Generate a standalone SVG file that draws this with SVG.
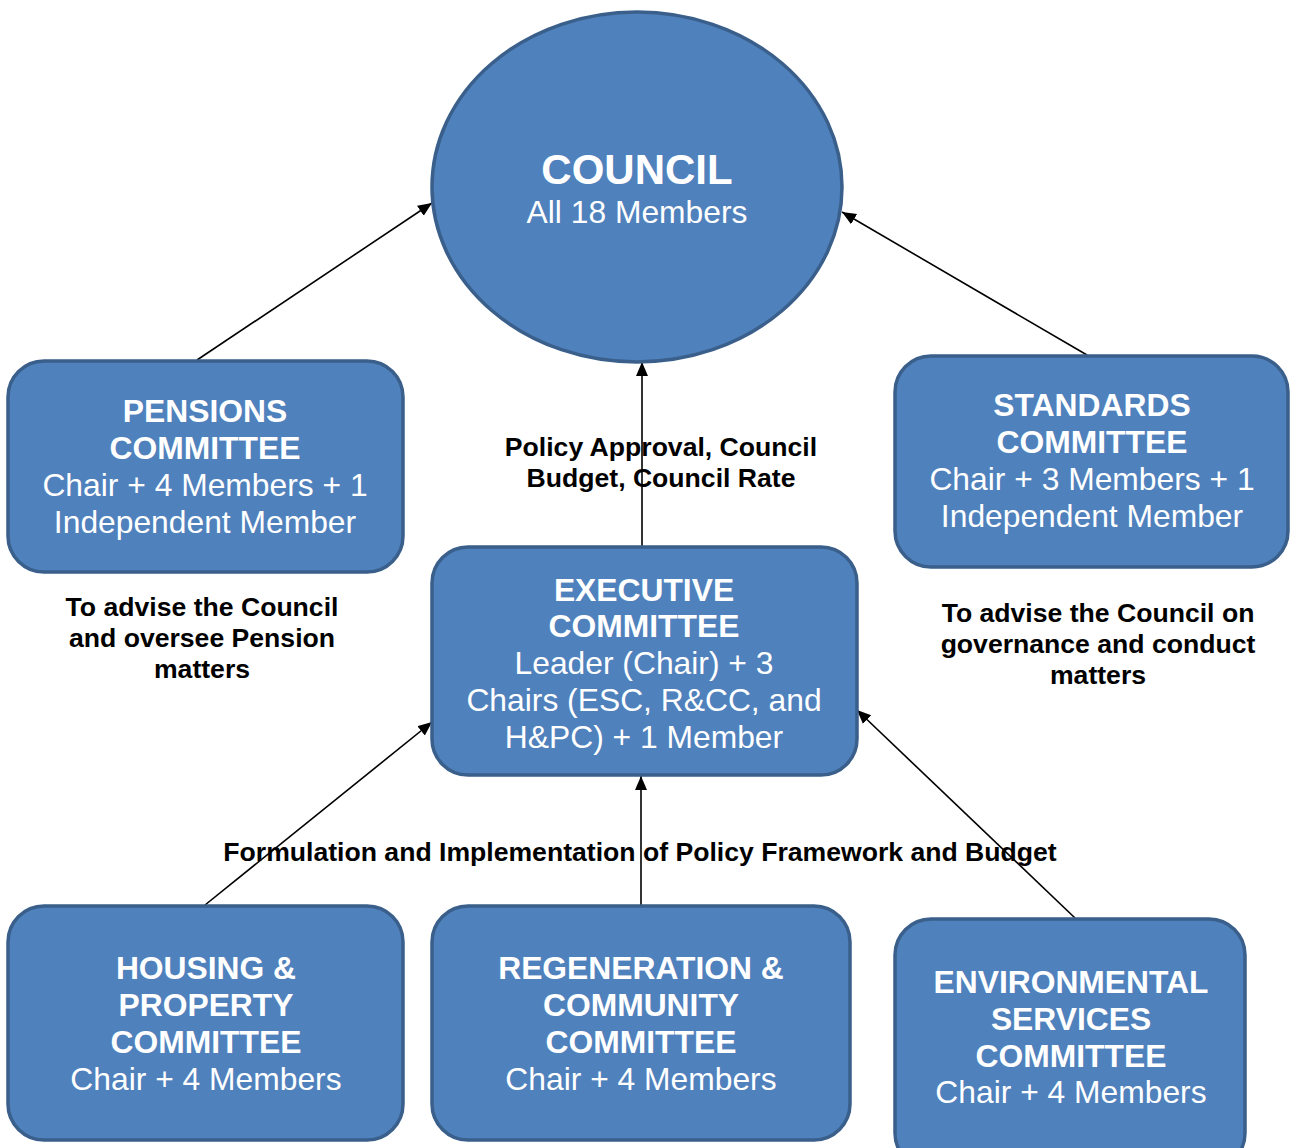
<svg xmlns="http://www.w3.org/2000/svg" width="1290" height="1148" viewBox="0 0 1290 1148">
  <style>
    .shape { fill: #4F81BD; stroke: #3A5F8B; stroke-width: 3.5; }
    .t { font-family: "Liberation Sans", Arial, sans-serif; fill: #FFFFFF; text-anchor: middle; font-size: 31.8px; }
    .b { font-weight: bold; }
    .note { font-family: "Liberation Sans", Arial, sans-serif; fill: #000000; font-weight: bold; text-anchor: middle; font-size: 26.6px; }
    .conn { stroke: #000000; stroke-width: 1.6; fill: none; marker-end: url(#arrow); }
  </style>
  <defs>
    <marker id="arrow" markerUnits="userSpaceOnUse" markerWidth="16" markerHeight="14" refX="14" refY="6" orient="auto">
      <path d="M0,0 L14,6 L0,12 Z" fill="#000000"/>
    </marker>
  </defs>
  <rect x="0" y="0" width="1290" height="1148" fill="#FFFFFF"/>

  <g id="labels">
    <text class="note" x="661" y="456">Policy Approval, Council</text>
    <text class="note" x="661" y="487">Budget, Council Rate</text>
    <text class="note" x="202" y="616">To advise the Council</text>
    <text class="note" x="202" y="647">and oversee Pension</text>
    <text class="note" x="202" y="678">matters</text>
    <text class="note" x="1098" y="622">To advise the Council on</text>
    <text class="note" x="1098" y="653">governance and conduct</text>
    <text class="note" x="1098" y="684">matters</text>
    <text class="note" x="640" y="861">Formulation and Implementation of Policy Framework and Budget</text>
  </g>

  <g id="connectors">
    <line class="conn" x1="197" y1="360" x2="432" y2="203"/>
    <line class="conn" x1="1087" y1="355" x2="842" y2="212"/>
    <line class="conn" x1="642" y1="546" x2="642" y2="362"/>
    <line class="conn" x1="205" y1="905" x2="432" y2="722"/>
    <line class="conn" x1="641" y1="918" x2="641" y2="776"/>
    <line class="conn" x1="1075" y1="918" x2="857" y2="710"/>
  </g>

  <g id="council">
    <ellipse class="shape" cx="637" cy="187" rx="205" ry="175"/>
    <text class="t b" x="637" y="184" style="font-size:42px">COUNCIL</text>
    <text class="t" x="637" y="223">All 18 Members</text>
  </g>

  <g id="pensions">
    <rect class="shape" x="8" y="361" width="395" height="211" rx="36" ry="36"/>
    <text class="t b" x="205" y="422">PENSIONS</text>
    <text class="t b" x="205" y="459">COMMITTEE</text>
    <text class="t" x="205" y="496">Chair + 4 Members + 1</text>
    <text class="t" x="205" y="533">Independent Member</text>
  </g>

  <g id="standards">
    <rect class="shape" x="895" y="356" width="393" height="211" rx="36" ry="36"/>
    <text class="t b" x="1092" y="416">STANDARDS</text>
    <text class="t b" x="1092" y="453">COMMITTEE</text>
    <text class="t" x="1092" y="490">Chair + 3 Members + 1</text>
    <text class="t" x="1092" y="527">Independent Member</text>
  </g>

  <g id="executive">
    <rect class="shape" x="432" y="547" width="425" height="228" rx="36" ry="36"/>
    <text class="t b" x="644" y="601">EXECUTIVE</text>
    <text class="t b" x="644" y="637">COMMITTEE</text>
    <text class="t" x="644" y="674">Leader (Chair) + 3</text>
    <text class="t" x="644" y="711">Chairs (ESC, R&amp;CC, and</text>
    <text class="t" x="644" y="748">H&amp;PC) + 1 Member</text>
  </g>

  <g id="housing">
    <rect class="shape" x="8" y="906" width="395" height="234" rx="36" ry="36"/>
    <text class="t b" x="206" y="979">HOUSING &amp;</text>
    <text class="t b" x="206" y="1016">PROPERTY</text>
    <text class="t b" x="206" y="1053">COMMITTEE</text>
    <text class="t" x="206" y="1090">Chair + 4 Members</text>
  </g>

  <g id="regeneration">
    <rect class="shape" x="432" y="906" width="418" height="234" rx="36" ry="36"/>
    <text class="t b" x="641" y="979">REGENERATION &amp;</text>
    <text class="t b" x="641" y="1016">COMMUNITY</text>
    <text class="t b" x="641" y="1053">COMMITTEE</text>
    <text class="t" x="641" y="1090">Chair + 4 Members</text>
  </g>

  <g id="environmental">
    <rect class="shape" x="895" y="919" width="350" height="250" rx="36" ry="36"/>
    <text class="t b" x="1071" y="993">ENVIRONMENTAL</text>
    <text class="t b" x="1071" y="1030">SERVICES</text>
    <text class="t b" x="1071" y="1067">COMMITTEE</text>
    <text class="t" x="1071" y="1103">Chair + 4 Members</text>
  </g>
</svg>
